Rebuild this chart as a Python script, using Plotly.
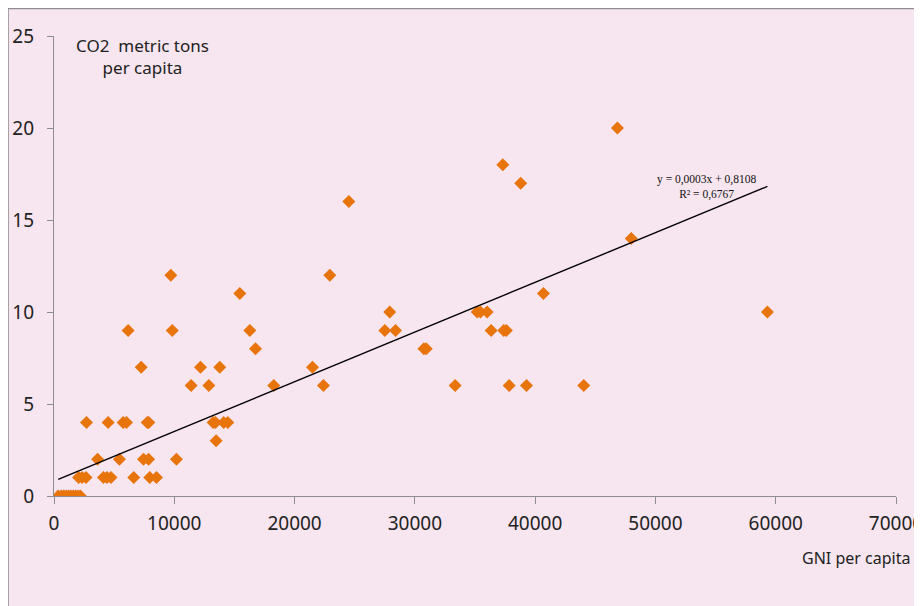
import numpy as np
import plotly.graph_objects as go

# GNI per capita (x) and CO2 metric tons per capita (y)
gni = [350, 600, 800, 1000, 1200, 1400, 1600, 1800, 2000, 2200,
       2040, 2330, 2660, 4110, 4400, 4740, 6630, 7960, 8520,
       3620, 5440, 7440, 7860, 10180,
       13480,
       2700, 4500, 5750, 6030, 7750, 7880, 13230, 13420, 14110, 14450,
       11400, 12870, 18270, 22400, 33350, 37840, 39280, 44040,
       7250, 12180, 13780, 21490,
       16750, 30750, 30950,
       6160, 9830, 16280, 27500, 28390, 36340, 37390, 37610,
       27910, 35180, 35450, 36010, 59310,
       15450, 40690,
       9710, 22930,
       47990, 24510, 38800, 37310, 46840]
co2 = [0, 0, 0, 0, 0, 0, 0, 0, 0, 0,
       1, 1, 1, 1, 1, 1, 1, 1, 1,
       2, 2, 2, 2, 2,
       3,
       4, 4, 4, 4, 4, 4, 4, 4, 4, 4,
       6, 6, 6, 6, 6, 6, 6, 6,
       7, 7, 7, 7,
       8, 8, 8,
       9, 9, 9, 9, 9, 9, 9, 9,
       10, 10, 10, 10, 10,
       11, 11,
       12, 12,
       14, 16, 17, 18, 20]

x_ticks = [0, 10000, 20000, 30000, 40000, 50000, 60000, 70000]
y_ticks = [0, 5, 10, 15, 20, 25]

# Linear trendline as drawn in the chart (coefficients)
trend_slope = 0.00027
trend_intercept = 0.8108
trend_label = "y = 0,0003x + 0,8108<br>R² = 0,6767"

tx = np.array([min(gni), max(gni)], dtype=float)
ty = trend_slope * tx + trend_intercept

PINK = "#F7E5EF"
GREY = "#8E8E8E"

ML, MT, PW, PH = 45.5, 28, 842.5, 460
W, H = 922, 606


def px(sx):
    return (sx - 53.5) / PW


def py(sy):
    return (496 - sy) / PH


fig = go.Figure()
fig.add_trace(go.Scatter(x=gni, y=co2, mode="markers",
                         marker=dict(symbol="diamond", size=10, color="#E8740C",
                                     line=dict(width=0)),
                         showlegend=False, hoverinfo="x+y"))
fig.add_trace(go.Scatter(x=tx, y=ty, mode="lines",
                         line=dict(color="black", width=1.4),
                         showlegend=False, hoverinfo="skip"))

fig.update_layout(
    width=W, height=H,
    margin=dict(l=ML, r=W - ML - PW, t=MT, b=H - MT - PH),
    paper_bgcolor=PINK, plot_bgcolor=PINK,
    font=dict(family="Noto Sans", color="#222222"),
    xaxis=dict(range=[0, 70000], tickvals=x_ticks, ticktext=[str(v) for v in x_ticks],
               automargin=False,
               showgrid=False, zeroline=False, showline=True, linecolor=GREY, linewidth=1.3,
               ticks="outside", ticklen=7, tickcolor=GREY, tickwidth=1.3,
               tickfont=dict(size=19, family="Noto Sans"), ticklabelstandoff=3),
    yaxis=dict(range=[0, 25], tickvals=y_ticks, automargin=False,
               showgrid=False, zeroline=False, showline=True, linecolor=GREY, linewidth=1.3,
               ticks="outside", ticklen=6, tickcolor=GREY, tickwidth=1.3,
               tickfont=dict(size=19, family="Noto Sans"), ticklabelstandoff=9),
    shapes=[dict(type="rect", xref="paper", yref="paper",
                 x0=px(7.5), x1=1.3, y0=-0.5, y1=py(8.5),
                 line=dict(color=GREY, width=1.5), fillcolor="rgba(0,0,0,0)", layer="below")],
    annotations=[
        dict(text="CO2  metric tons<br>per capita", xref="paper", yref="paper",
             x=px(142), y=py(57), xanchor="center", yanchor="middle",
             showarrow=False, align="center", font=dict(size=17, family="Noto Sans")),
        dict(text="GNI per capita", xref="paper", yref="paper",
             x=px(912), y=py(558), xanchor="right", yanchor="middle",
             showarrow=False, font=dict(size=16, family="Noto Sans")),
        dict(text=trend_label, xref="paper", yref="paper",
             x=px(706), y=py(187), xanchor="center", yanchor="middle",
             showarrow=False, align="center",
             font=dict(size=11.5, family="Liberation Serif", color="#111111")),
    ],
)

fig.write_html("out.html")
